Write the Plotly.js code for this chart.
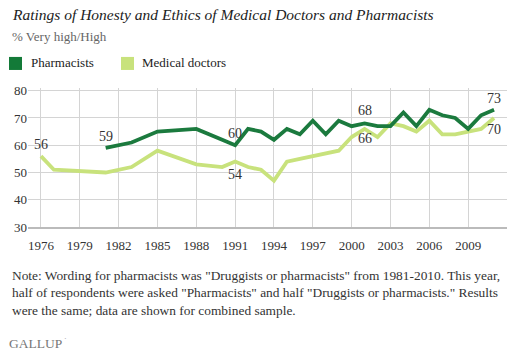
<!DOCTYPE html>
<html>
<head>
<meta charset="utf-8">
<script src="https://cdn.plot.ly/plotly-3.0.1.min.js"></script>
<style>html,body{margin:0;padding:0;background:#fff;}#chart{width:514px;height:354px;}</style>
</head>
<body>
<div id="chart"></div>
<script>
const pharmYears = [1981,1983,1985,1988,1990,1991,1992,1993,1994,1995,1996,1997,1998,1999,2000,2001,2002,2003,2004,2005,2006,2007,2008,2009,2010,2011];
const pharmValues = [59,61,65,66,62,60,66,65,62,66,64,69,64,69,67,68,67,67,72,67,73,71,70,66,71,73];
const docYears = [1976,1977,1981,1983,1985,1988,1990,1991,1992,1993,1994,1995,1996,1997,1998,1999,2000,2001,2002,2003,2004,2005,2006,2007,2008,2009,2010,2011];
const docValues = [56,51,50,52,58,53,52,54,52,51,47,54,55,56,57,58,63,66,63,68,67,65,69,64,64,65,66,70];
const xTicks = [1976,1979,1982,1985,1988,1991,1994,1997,2000,2003,2006,2009];
const yTicks = [30,40,50,60,70,80];
// labelled points: [year, vertical shift]
const pharmLabels = [[1981,11],[1991,12],[2001,13],[2011,11]];
const docLabels = [[1976,12],[1991,-13],[2001,-10],[2011,-12]];

const W = 514, H = 354;
const M = {l:28, r:7, t:88, b:127.3};
const pw = W - M.l - M.r, ph = H - M.t - M.b;
function px(x){return (x - M.l)/pw;}
function py(y){return (H - M.b - y)/ph;}

const serif = 'Liberation Serif';
const darkG = '#1b7a3e', lightG = '#c8e27c';

const traces = [
  {x: docYears, y: docValues, type:'scatter', mode:'lines', line:{color:lightG, width:3.8}, hoverinfo:'skip'},
  {x: pharmYears, y: pharmValues, type:'scatter', mode:'lines', line:{color:darkG, width:3.8}, hoverinfo:'skip'}
];

const ann = [];
function valAt(years, vals, yr){return vals[years.indexOf(yr)];}
pharmLabels.forEach(([yr, s]) => ann.push({x: yr, y: valAt(pharmYears, pharmValues, yr), xref:'x', yref:'y', text: String(valAt(pharmYears, pharmValues, yr)), showarrow:false, yshift: s, font:{family:serif, size:14, color:'#333'}}));
docLabels.forEach(([yr, s]) => ann.push({x: yr, y: valAt(docYears, docValues, yr), xref:'x', yref:'y', text: String(valAt(docYears, docValues, yr)), showarrow:false, yshift: s, font:{family:serif, size:14, color:'#333'}}));

ann.push({x: px(10), y: py(15), xref:'paper', yref:'paper', xanchor:'left', yanchor:'middle', showarrow:false,
  text:'<i>Ratings of Honesty and Ethics of Medical Doctors and Pharmacists</i>', font:{family:serif, size:15.5, color:'#222'}});
ann.push({x: px(10), y: py(37), xref:'paper', yref:'paper', xanchor:'left', yanchor:'middle', showarrow:false,
  text:'% Very high/High', font:{family:serif, size:13, color:'#666'}});
ann.push({x: px(29), y: py(63), xref:'paper', yref:'paper', xanchor:'left', yanchor:'middle', showarrow:false,
  text:'Pharmacists', font:{family:serif, size:13, color:'#222'}});
ann.push({x: px(140), y: py(63), xref:'paper', yref:'paper', xanchor:'left', yanchor:'middle', showarrow:false,
  text:'Medical doctors', font:{family:serif, size:13, color:'#222'}});
ann.push({x: px(10), y: py(266), xref:'paper', yref:'paper', xanchor:'left', yanchor:'top', showarrow:false, align:'left',
  text:'Note: Wording for pharmacists was "Druggists or pharmacists" from 1981-2010. This year,<br>half of respondents were asked "Pharmacists" and half "Druggists or pharmacists." Results<br>were the same; data are shown for combined sample.',
  font:{family:serif, size:13.4, color:'#333'}});
ann.push({x: px(7), y: py(343), xref:'paper', yref:'paper', xanchor:'left', yanchor:'middle', showarrow:false,
  text:'GALLUP', font:{family:serif, size:13.5, color:'#777'}});
ann.push({x: px(62), y: py(338), xref:'paper', yref:'paper', xanchor:'left', yanchor:'middle', showarrow:false,
  text:'·', font:{family:serif, size:8, color:'#999'}});

const shapes = [
  {type:'rect', xref:'paper', yref:'paper', x0:px(9), x1:px(22), y0:py(57), y1:py(70), fillcolor:'#137a38', line:{width:0}},
  {type:'rect', xref:'paper', yref:'paper', x0:px(121), x1:px(134), y0:py(57), y1:py(70), fillcolor:lightG, line:{width:0}}
];

const layout = {
  width: W, height: H,
  margin: {l:M.l, r:M.r, t:M.t, b:M.b, pad:0},
  paper_bgcolor:'#fff', plot_bgcolor:'#fff',
  showlegend:false,
  font:{family:serif},
  xaxis:{range:[1975, 2012], tickvals:xTicks, ticktext:xTicks.map(String), showgrid:true, gridcolor:'#d4d4d4', gridwidth:1,
    zeroline:false, showline:true, linecolor:'#bbb', linewidth:1.5, ticks:'', ticklen:0, ticklabelstandoff:6,
    tickfont:{family:serif, size:13, color:'#333'}, fixedrange:true},
  yaxis:{range:[30, 81], tickvals:yTicks, ticktext:yTicks.map(String), showgrid:true, gridcolor:'#d4d4d4', gridwidth:1,
    zeroline:false, showline:false, ticks:'', tickfont:{family:serif, size:13, color:'#333'}, fixedrange:true},
  annotations: ann,
  shapes: shapes
};
Plotly.newPlot('chart', traces, layout, {displayModeBar:false, staticPlot:true});
</script>
</body>
</html>
